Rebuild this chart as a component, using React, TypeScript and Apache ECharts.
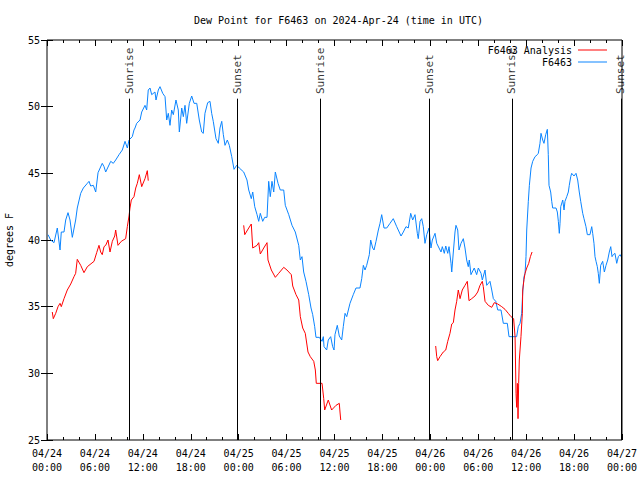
import React, { useEffect, useRef } from "react";
import * as echarts from "echarts";

// Hours since 2024-04-24 00:00 UTC
const xTickLabels = [
  "04/24\n00:00", "04/24\n06:00", "04/24\n12:00", "04/24\n18:00",
  "04/25\n00:00", "04/25\n06:00", "04/25\n12:00", "04/25\n18:00",
  "04/26\n00:00", "04/26\n06:00", "04/26\n12:00", "04/26\n18:00",
  "04/27\n00:00",
];

// F6463 observations
const obsHours = [
  0.13, 0.46, 0.88, 1.29, 1.63, 1.79, 2.13, 2.34, 2.63, 2.88, 3.17, 3.59, 3.79, 4.22, 4.55, 5.05, 5.26, 5.47, 5.8, 6.1,
  6.39, 6.92, 7.14, 7.35, 7.98, 8.3, 8.6, 9.02, 9.43, 9.77, 10.06, 10.27, 10.68, 10.89, 11.02, 11.23, 11.65, 11.86, 12.27, 12.48,
  12.68, 12.9, 13.11, 13.52, 13.65, 13.94, 14.15, 14.49, 14.78, 14.99, 15.19, 15.4, 15.61, 15.82, 16.15, 16.44, 16.57, 16.87, 17.07, 17.28,
  17.49, 17.82, 18.12, 18.41, 18.75, 19.07, 19.37, 19.57, 19.78, 20.12, 20.41, 20.62, 20.82, 21.16, 21.45, 21.66, 21.88, 22.08, 22.29, 22.58,
  22.83, 23.13, 23.42, 23.75, 24.08, 24.63, 25.04, 25.26, 25.58, 25.76, 26.01, 26.3, 26.51, 26.71, 27.01, 27.26, 27.55, 27.76, 27.96, 28.17,
  28.39, 28.59, 28.93, 29.21, 29.64, 29.84, 30.27, 30.68, 31.09, 31.52, 31.72, 31.93, 32.14, 32.43, 32.77, 33.06, 33.27, 33.52, 33.68, 34.1,
  34.44, 34.6, 34.69, 35.02, 35.22, 35.52, 35.77, 35.94, 36.06, 36.35, 36.6, 36.9, 37.1, 37.32, 37.53, 37.94, 38.35, 38.69, 39.19, 39.41,
  39.61, 39.82, 40.03, 40.36, 40.53, 40.78, 40.95, 41.2, 41.49, 41.7, 41.91, 42.2, 42.54, 42.95, 43.36, 43.79, 44.33, 44.62, 44.95, 45.24,
  45.54, 45.79, 46.08, 46.37, 46.49, 46.71, 46.92, 47.12, 47.33, 47.55, 47.83, 48.08, 48.25, 48.59, 48.8, 49.09, 49.34, 49.5, 49.75, 49.93,
  50.18, 50.34, 50.59, 50.68, 50.88, 51.09, 51.21, 51.43, 51.59, 51.84, 52.13, 52.34, 52.55, 52.75, 52.88, 53.09, 53.25, 53.5, 53.8, 54.01,
  54.35, 54.51, 54.85, 55.06, 55.47, 55.69, 55.89, 56.19, 56.44, 56.85, 57.14, 57.64, 57.85, 58.26, 58.81, 59.01, 59.23, 59.44, 59.57, 59.73,
  59.86, 59.98, 60.07, 60.27, 60.4, 60.61, 60.82, 61.11, 61.4, 61.52, 61.73, 61.86, 62.07, 62.23, 62.45, 62.65, 62.77, 62.86, 63.07, 63.2,
  63.32, 63.74, 63.9, 64.03, 64.15, 64.24, 64.33, 64.58, 64.74, 64.86, 65.08, 65.28, 65.4, 65.58, 65.7, 65.99, 66.24, 66.45, 66.65, 66.83,
  67.08, 67.24, 67.49, 67.66, 67.99, 68.21, 68.33, 68.49, 68.62, 68.75, 68.91, 69.03, 69.16, 69.33, 69.58, 69.79, 70.0, 70.21, 70.41, 70.59,
  70.75, 70.91, 71.12, 71.34, 71.54, 71.76, 71.88,
];
const obsDewF = [
  40.4, 40.0, 39.8, 40.9, 39.25, 40.6, 40.6, 41.5, 42.05, 41.5, 40.2, 41.5, 42.4, 43.5, 43.9, 44.25, 44.4, 44.05, 44.1, 43.6,
  45.05, 45.75, 45.5, 45.1, 45.9, 45.75, 46.0, 46.4, 46.75, 47.4, 46.9, 47.5, 47.75, 48.25, 48.4, 48.75, 49.0, 49.6, 50.1, 49.75,
  51.25, 51.4, 50.9, 51.1, 50.5, 51.25, 51.5, 51.0, 50.75, 49.0, 49.5, 48.6, 49.75, 49.4, 50.5, 49.75, 48.1, 49.9, 49.25, 50.1,
  48.75, 50.25, 50.8, 50.25, 50.25, 49.0, 48.1, 48.0, 49.5, 50.3, 50.4, 49.5, 48.9, 47.6, 47.25, 48.4, 48.9, 47.9, 47.1, 47.5,
  47.1, 46.25, 45.3, 45.6, 45.4, 45.1, 44.5, 43.75, 43.1, 43.6, 42.5, 41.9, 41.4, 42.0, 41.4, 41.7, 41.7, 44.4, 43.25, 44.4,
  43.6, 45.1, 44.25, 43.75, 43.75, 42.6, 41.9, 41.1, 40.6, 39.6, 38.5, 38.75, 37.6, 36.9, 35.9, 34.9, 34.4, 33.5, 32.7, 32.7,
  32.4, 32.75, 32.0, 31.75, 32.5, 32.75, 32.0, 31.75, 32.9, 33.6, 32.8, 32.5, 33.5, 34.5, 34.25, 35.25, 35.9, 36.4, 36.4, 37.1,
  38.1, 37.75, 38.1, 38.9, 40.0, 39.4, 39.25, 39.9, 40.75, 41.25, 41.9, 40.9, 40.9, 41.25, 41.6, 41.0, 40.3, 40.6, 41.0, 40.9,
  42.0, 41.5, 41.9, 40.5, 40.1, 41.4, 41.6, 41.0, 39.75, 40.4, 40.9, 39.4, 40.0, 40.5, 39.75, 39.4, 39.1, 39.5, 39.0, 39.55,
  39.0, 39.5, 38.25, 37.6, 39.1, 40.6, 41.1, 40.75, 39.25, 39.75, 40.1, 39.4, 38.5, 38.0, 38.5, 37.4, 37.6, 37.9, 37.4, 37.9,
  37.5, 37.0, 37.75, 36.6, 36.9, 36.25, 35.6, 35.4, 34.75, 34.75, 33.75, 33.75, 32.75, 32.75, 32.75, 33.5, 33.75, 34.5, 36.1, 37.25,
  37.5, 38.75, 40.75, 42.9, 44.1, 45.4, 45.9, 46.25, 46.4, 46.5, 47.25, 48.0, 47.5, 47.25, 47.9, 48.3, 46.4, 44.1, 43.6, 42.9,
  42.4, 42.4, 42.1, 41.4, 40.5, 41.25, 42.5, 43.0, 42.25, 42.9, 43.25, 43.6, 44.1, 44.75, 45.0, 44.8, 45.0, 44.5, 43.6, 42.9,
  42.0, 41.6, 41.0, 40.4, 40.4, 41.0, 40.5, 39.75, 38.75, 38.4, 38.0, 37.5, 36.75, 38.1, 38.4, 37.6, 38.1, 38.5, 39.1, 39.5,
  38.75, 38.9, 39.0, 38.25, 38.75, 38.9, 38.75,
];

// F6463 Analysis, three runs separated by gaps (null)
const anlHours = [
  0.66, 0.79, 1.09, 1.38, 1.63, 1.79, 2.13, 2.54, 2.97, 3.38, 3.59, 3.79, 4.22, 4.63, 5.05, 5.89, 6.22, 6.51, 6.72, 6.92,
  7.14, 7.35, 7.64, 7.89, 8.18, 8.48, 8.6, 8.89, 9.3, 9.85, 10.06, 10.27, 10.39, 10.56, 10.89, 11.11, 11.31, 11.56, 11.86, 12.27,
  12.56, 12.68,
  18.0,
  24.63, 24.76, 25.26, 25.58, 25.76, 26.3, 26.51, 26.71, 27.14, 27.55, 27.67, 28.09, 28.59, 29.01, 29.64, 30.05, 30.59, 30.77, 31.18, 31.52,
  31.72, 32.02, 32.34, 32.68, 32.97, 33.4, 33.6, 33.72, 34.44, 34.65, 34.77, 35.22, 35.64, 36.19, 36.6, 36.69, 36.78,
  42.0,
  48.67, 48.8, 48.92, 49.21, 49.62, 49.93, 50.18, 50.46, 50.68, 50.88, 51.09, 51.3, 51.5, 51.72, 52.0, 52.34, 52.63, 52.84, 53.18, 53.59,
  53.93, 54.22, 54.51, 54.63, 54.85, 55.26, 55.69, 56.01, 56.44, 56.94, 57.35, 57.76, 58.1, 58.43, 58.61, 58.73, 58.81, 58.9, 58.98, 59.06,
  59.14, 59.35, 59.52, 59.57, 59.73, 59.86, 60.07, 60.32, 60.53, 60.74,
];
const anlDewF = [
  34.6, 34.1, 34.5, 35.0, 35.25, 35.0, 35.6, 36.25, 36.7, 37.25, 37.5, 38.55, 38.1, 37.55, 38.0, 38.4, 39.05, 39.6, 39.1, 38.9,
  39.5, 39.6, 40.0, 39.1, 39.9, 40.3, 40.75, 39.6, 39.9, 40.1, 41.0, 41.8, 42.4, 43.0, 43.25, 43.9, 44.25, 44.9, 44.0, 44.6,
  45.2, 44.45,
  null,
  41.1, 40.4, 40.9, 41.2, 39.4, 39.6, 39.8, 38.95, 39.4, 39.8, 38.5, 37.75, 37.2, 37.5, 37.95, 37.75, 37.4, 36.55, 35.9, 35.5,
  34.25, 33.4, 33.0, 31.6, 31.25, 30.9, 30.25, 29.25, 29.25, 28.1, 27.25, 28.0, 27.25, 27.6, 27.75, 27.1, 26.5,
  null,
  32.05, 31.25, 30.95, 31.25, 31.6, 31.75, 32.4, 33.0, 33.7, 33.8, 34.75, 35.4, 36.25, 35.6, 36.25, 36.6, 36.9, 35.45, 35.6, 35.8,
  36.1, 36.6, 36.9, 36.5, 35.4, 35.1, 34.95, 35.3, 35.2, 35.0, 34.8, 34.5, 34.25, 34.1, 32.75, 28.5, 27.45, 29.25, 26.6, 29.25,
  31.0, 32.75, 34.5, 36.25, 37.05, 37.5, 37.9, 38.25, 38.75, 39.1,
];

// Sun events (hours since 2024-04-24 00:00 UTC)
const sunNames = ["Sunrise", "Sunset", "Sunrise", "Sunset", "Sunrise", "Sunset"];
const sunHours = [10.27, 23.83, 34.23, 47.85, 58.22, 71.87];

const FONT = "DejaVu Sans Mono";

export default function App() {
  const ref = useRef<HTMLDivElement>(null);
  useEffect(() => {
    if (!ref.current) return;
    const chart = echarts.init(ref.current, undefined, { renderer: "svg" });
    const lineTop = 50.6;
    const labelAnchor = 50.95;
    const obs = obsHours.map((h, i) => [h, obsDewF[i]]);
    const anl = anlHours.map((h, i) => [h, anlDewF[i] === null ? "-" : anlDewF[i]]);
    const tickCommon = {
      axisLine: { show: false },
      splitLine: { show: false },
    };
    chart.setOption({
      animation: false,
      backgroundColor: "#ffffff",
      textStyle: { fontFamily: FONT },
      title: {
        text: "Dew Point for F6463 on 2024-Apr-24 (time in UTC)",
        left: 189,
        top: 10,
        textStyle: { fontFamily: FONT, fontSize: 10, fontWeight: "normal", color: "#000" },
      },
      legend: {
        data: ["F6463 Analysis", "F6463"],
        orient: "vertical",
        right: 28,
        top: 40,
        align: "right",
        itemGap: 2,
        itemWidth: 29,
        itemHeight: 1,
        icon: "rect",
        selectedMode: false,
        textStyle: { fontFamily: FONT, fontSize: 10, color: "#000", padding: [0, 1, 0, 0] },
      },
      grid: {
        left: 47,
        right: 18,
        top: 40,
        bottom: 40,
        show: true,
        borderColor: "#000",
        borderWidth: 1,
        backgroundColor: "transparent",
        containLabel: false,
        outerBoundsMode: "none",
      },
      xAxis: [
        {
          type: "value",
          min: 0,
          max: 72,
          interval: 6,
          ...tickCommon,
          axisTick: { show: true, inside: true, length: 6, lineStyle: { color: "#000" } },
          minorTick: { show: true, splitNumber: 3, length: 3, lineStyle: { color: "#000" } },
          axisLabel: {
            margin: 6,
            fontFamily: FONT,
            fontSize: 10,
            color: "#000",
            lineHeight: 14,
            formatter: (v: number) => xTickLabels[Math.round(v / 6)] ?? "",
          },
        },
        {
          type: "value",
          position: "top",
          min: 0,
          max: 72,
          interval: 6,
          ...tickCommon,
          axisTick: { show: true, inside: true, length: 6, lineStyle: { color: "#000" } },
          minorTick: { show: true, splitNumber: 3, length: 3, lineStyle: { color: "#000" } },
          axisLabel: { show: false },
        },
      ],
      yAxis: [
        {
          type: "value",
          min: 25,
          max: 55,
          interval: 5,
          name: "degrees F",
          nameLocation: "middle",
          nameGap: 33,
          nameTextStyle: { fontFamily: FONT, fontSize: 10, color: "#000" },
          ...tickCommon,
          axisTick: { show: true, inside: true, length: 6, lineStyle: { color: "#000" } },
          axisLabel: { margin: 7, fontFamily: FONT, fontSize: 10, color: "#000" },
        },
        {
          type: "value",
          position: "right",
          min: 25,
          max: 55,
          interval: 5,
          ...tickCommon,
          axisTick: { show: true, inside: true, length: 6, lineStyle: { color: "#000" } },
          axisLabel: { show: false },
        },
      ],
      series: [
        {
          name: "F6463 Analysis",
          type: "line",
          data: anl,
          showSymbol: false,
          symbol: "none",
          connectNulls: false,
          color: "#ff0000",
          lineStyle: { color: "#ff0000", width: 1 },
          z: 4,
        },
        {
          name: "F6463",
          type: "line",
          data: obs,
          showSymbol: false,
          symbol: "none",
          color: "#0a84ff",
          lineStyle: { color: "#0a84ff", width: 1 },
          z: 3,
          markLine: {
            silent: true,
            symbol: ["none", "none"],
            label: { show: false },
            lineStyle: { color: "#000", width: 1, type: "solid" },
            data: sunHours.map((h) => [{ coord: [h, 25] }, { coord: [h, lineTop] }]),
          },
        },
        {
          name: "sun",
          type: "scatter",
          symbolSize: 0,
          z: 5,
          data: sunHours.map((h, i) => ({ value: [h, labelAnchor], name: sunNames[i] })),
          label: {
            show: true,
            position: "inside",
            rotate: 90,
            align: "left",
            verticalAlign: "middle",
            formatter: (p: any) => p.name,
            fontFamily: FONT,
            fontSize: 11,
            color: "#000",
          },
        },
      ],
    });
    return () => chart.dispose();
  }, []);
  return (
    <div
      ref={ref}
      style={{ position: "fixed", left: 0, top: 0, width: 640, height: 480, background: "#fff" }}
    />
  );
}
